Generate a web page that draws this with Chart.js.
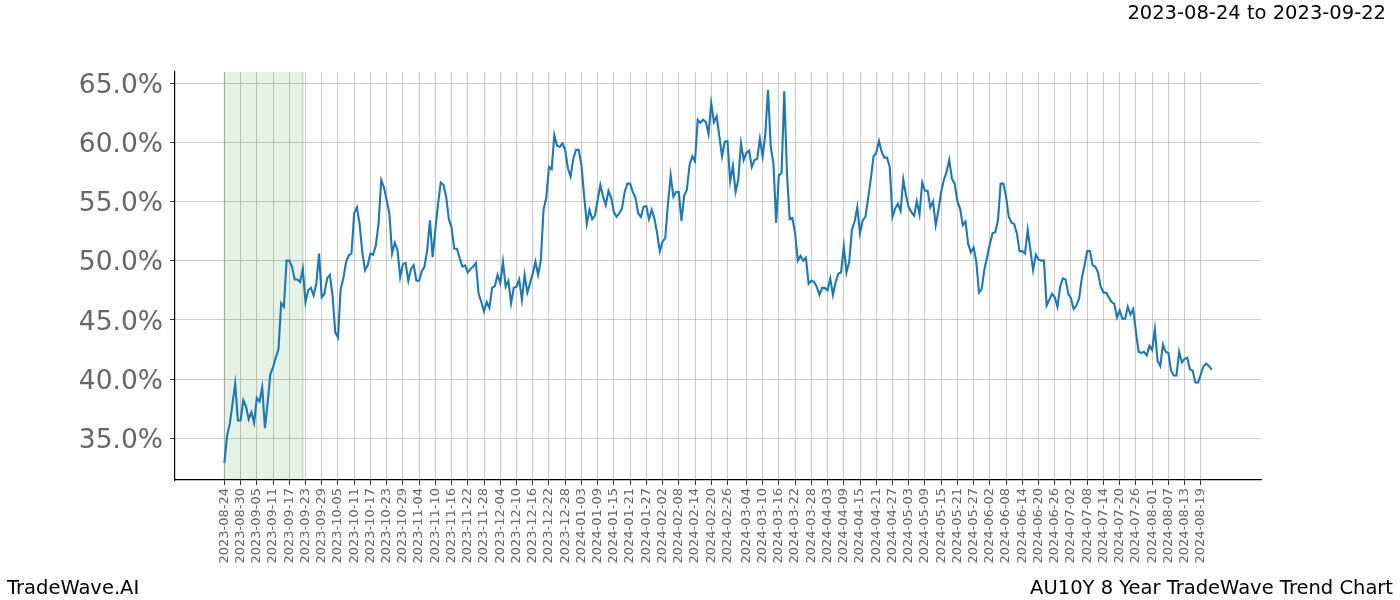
<!DOCTYPE html>
<html>
<head>
<meta charset="utf-8">
<script src="https://cdn.jsdelivr.net/npm/chart.js@4.4.1/dist/chart.umd.min.js"></script>
<style>
  body { margin: 0; background: #fff; }
  #wrap { position: relative; width: 1400px; height: 600px; font-family: "DejaVu Sans", sans-serif; }
  .lbl { position: absolute; font-size: 19.5px; color: #000; white-space: nowrap; line-height: 1; }
</style>
</head>
<body>
<div id="wrap">
  <canvas id="chart" width="1400" height="600"></canvas>
  <div class="lbl" id="range" style="right:14px; top:3px;">2023-08-24 to 2023-09-22</div>
  <div class="lbl" style="left:7px; top:578px;">TradeWave.AI</div>
  <div class="lbl" style="right:7px; top:578px;">AU10Y 8 Year TradeWave Trend Chart</div>
</div>
<script>
// one value per calendar day, starting at startDate
var startDate = '2023-08-24';
var trendValues = [
  32.9, 35.2, 36.2, 37.9, 39.6, 36.5, 36.5, 38.2, 37.7, 36.6,
  37.2, 36.3, 38.4, 38.1, 39.3, 35.85, 38.0, 40.4, 41.0, 41.8,
  42.5, 46.4, 46.1, 50.0, 50.0, 49.5, 48.4, 48.4, 48.2, 49.3,
  46.5, 47.5, 47.7, 47.05, 48.05, 50.6, 46.9, 47.2, 48.5, 48.8,
  47.05, 43.95, 43.5, 47.6, 48.5, 49.9, 50.45, 50.6, 54.0, 54.5,
  53.1, 50.7, 49.2, 49.6, 50.6, 50.5, 51.3, 53.1, 56.8, 56.2,
  55.1, 54.0, 50.6, 51.5, 50.9, 48.6, 49.7, 49.8, 48.3, 49.3,
  49.6, 48.3, 48.3, 49.1, 49.5, 50.9, 53.4, 50.3, 52.6, 54.8,
  56.6, 56.4, 55.4, 53.5, 52.8, 51.0, 51.0, 50.2, 49.5, 49.6,
  49.0, 49.3, 49.5, 49.8, 47.2, 46.5, 45.7, 46.5, 46.0, 47.7,
  47.85, 48.8, 48.1, 49.9, 47.8, 48.3, 46.4, 47.7, 47.8, 48.4,
  46.7, 48.8, 47.3, 48.1, 48.9, 49.9, 48.8, 50.0, 54.3, 55.3,
  57.9, 57.7, 60.6, 59.7, 59.6, 59.9, 59.35, 57.8, 57.1, 58.6,
  59.35, 59.35, 58.1, 55.5, 53.1, 54.3, 53.5, 53.8, 55.1, 56.4,
  55.4, 54.7, 55.9, 55.3, 54.1, 53.7, 54.0, 54.4, 55.8, 56.5,
  56.5, 55.8, 55.3, 54.0, 53.7, 54.55, 54.6, 53.5, 54.3, 53.55,
  52.3, 50.8, 51.6, 51.9, 54.8, 57.2, 55.4, 55.8, 55.8, 53.35,
  55.5, 56.0, 58.1, 58.8, 58.4, 61.9, 61.65, 61.9, 61.7, 60.7,
  63.3, 61.7, 62.2, 60.5, 58.8, 60.05, 60.1, 56.7, 58.0, 55.8,
  56.85, 59.9, 58.5, 59.1, 59.3, 57.9, 58.5, 58.6, 60.3, 58.8,
  60.7, 64.4, 59.6, 58.2, 53.2, 57.2, 57.4, 64.3, 57.4, 53.5,
  53.6, 52.3, 50.0, 50.4, 50.0, 50.25, 48.05, 48.3, 48.2, 47.8,
  47.1, 47.7, 47.7, 47.5, 48.5, 47.1, 48.2, 48.9, 49.0, 51.2,
  49.0, 49.9, 52.6, 53.3, 54.5, 52.3, 53.4, 53.7, 55.25, 56.9,
  58.8, 59.1, 60.1, 59.2, 58.7, 58.7, 57.9, 53.7, 54.4, 54.8,
  54.2, 56.85, 55.5, 54.5, 54.1, 53.8, 55.0, 53.9, 56.6, 55.9,
  55.9, 54.5, 55.0, 53.0, 54.25, 55.8, 56.8, 57.5, 58.5, 56.9,
  56.5, 55.0, 54.4, 53.0, 53.3, 51.4, 50.7, 51.1, 49.9, 47.3,
  47.6, 49.3, 50.3, 51.4, 52.3, 52.4, 53.4, 56.5, 56.5, 55.4,
  53.7, 53.2, 53.1, 52.3, 50.8, 50.8, 50.6, 52.6, 50.9, 49.2,
  50.5, 50.1, 50.0, 50.0, 46.2, 46.7, 47.2, 46.9, 46.1, 47.8,
  48.5, 48.4, 47.2, 46.8, 45.9, 46.2, 46.8, 48.5, 49.6, 50.8,
  50.8, 49.6, 49.5, 49.0, 47.8, 47.3, 47.3, 46.9, 46.5, 46.35,
  45.2, 45.8, 45.1, 45.1, 46.1, 45.45, 45.9, 44.0, 42.3, 42.2,
  42.3, 42.0, 42.8, 42.45, 44.2, 41.55, 41.1, 42.9, 42.3, 42.2,
  40.7, 40.3, 40.3, 42.3, 41.4, 41.7, 41.8, 40.8, 40.7, 39.7,
  39.7, 40.4, 41.1, 41.3, 41.1, 40.8
];
var yTicks = [35, 40, 45, 50, 55, 60, 65];
var xTickStep = 6;            // every 6th day of the series gets a label
var skipDates = ['2024-02-29']; // not counted when stepping tick labels
var shadeDays = [0, 29];      // 2023-08-24 .. 2023-09-22

var DAY = 86400000;
var t0 = Date.parse(startDate + 'T00:00:00Z');
function dayLabel(d) {
  return new Date(t0 + d * DAY).toISOString().slice(0, 10);
}

var points = trendValues.map(function (v, i) { return { x: i, y: v }; });
var lastDay = trendValues.length - 1;
var margin = lastDay * 0.05;

// tick positions: every 6th day of the series, leap day left out
var tickDays = [];
(function () {
  var n = 0;
  for (var d = 0; d <= lastDay; d++) {
    if (skipDates.indexOf(dayLabel(d)) !== -1) continue;
    if (n % xTickStep === 0) tickDays.push(d);
    n++;
  }
})();

var shadePlugin = {
  id: 'shade',
  beforeDatasetsDraw: function (chart) {
    var ctx = chart.ctx, xs = chart.scales.x, area = chart.chartArea;
    var a = xs.getPixelForValue(shadeDays[0]);
    var b = xs.getPixelForValue(shadeDays[1]);
    ctx.save();
    ctx.fillStyle = 'rgba(0,128,0,0.1)';
    ctx.fillRect(a, area.top, b - a, area.bottom - area.top);
    ctx.strokeStyle = 'rgba(0,60,0,0.15)';
    ctx.lineWidth = 1.5;
    ctx.beginPath();
    ctx.moveTo(a, area.top); ctx.lineTo(a, area.bottom);
    ctx.moveTo(b, area.top); ctx.lineTo(b, area.bottom);
    ctx.stroke();
    ctx.restore();
  }
};

var gridOpts = {
  color: '#bdbdbd',
  lineWidth: 0.8,
  borderDash: [1, 2],
  tickLength: 5,
  tickColor: '#000',
  tickBorderDash: []
};

new Chart(document.getElementById('chart').getContext('2d'), {
  type: 'line',
  data: {
    datasets: [{
      data: points,
      borderColor: '#1f77b4',
      borderWidth: 2.1,
      pointRadius: 0,
      tension: 0,
      fill: false
    }]
  },
  options: {
    responsive: false,
    animation: false,
    devicePixelRatio: 1,
    layout: { padding: { left: 0, right: 139, top: 72, bottom: 0 } },
    plugins: { legend: { display: false }, tooltip: { enabled: false } },
    scales: {
      x: {
        type: 'linear',
        min: -margin,
        max: lastDay + margin,
        afterBuildTicks: function (scale) {
          scale.ticks = tickDays.map(function (d) { return { value: d }; });
        },
        afterFit: function (scale) { scale.height = 120; },
        ticks: {
          autoSkip: false,
          minRotation: 90,
          maxRotation: 90,
          padding: 3,
          color: '#666',
          font: { family: 'DejaVu Sans', size: 13 },
          callback: function (v) { return dayLabel(v); }
        },
        grid: gridOpts,
        border: { display: true, color: '#000', width: 1.2 }
      },
      y: {
        min: 31.47,
        max: 65.93,
        afterBuildTicks: function (scale) {
          scale.ticks = yTicks.map(function (v) { return { value: v }; });
        },
        afterFit: function (scale) { scale.width = 175; },
        ticks: {
          padding: 7,
          labelOffset: 3,
          color: '#666',
          font: { family: 'DejaVu Sans', size: 26.5 },
          callback: function (v) { return v.toFixed(1) + '%'; }
        },
        grid: gridOpts,
        border: { display: true, color: '#000', width: 1.2 }
      }
    }
  },
  plugins: [shadePlugin]
});
</script>
</body>
</html>
